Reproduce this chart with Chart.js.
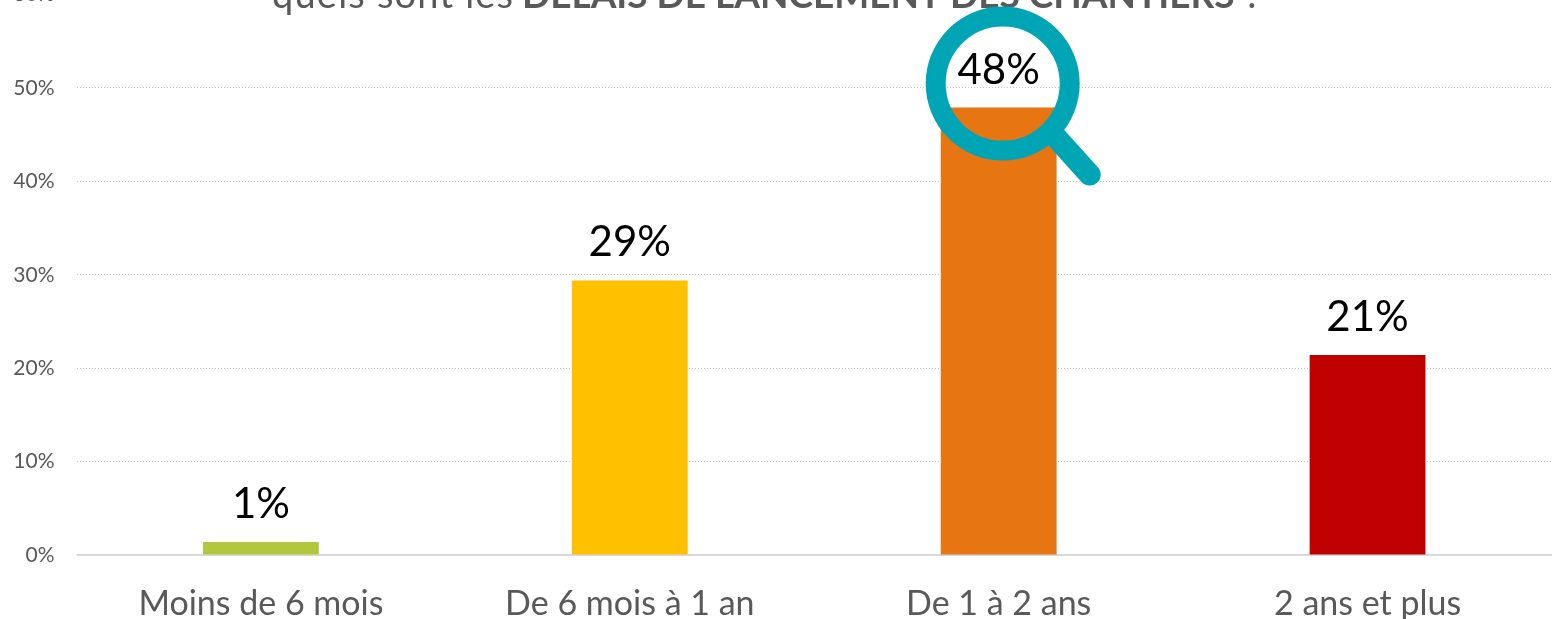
<!DOCTYPE html>
<html><head><meta charset="utf-8">
<style>html,body{margin:0;padding:0;background:#fff;overflow:hidden}#w{position:absolute;left:0;top:0;width:1552px;height:619px;overflow:hidden}#c{position:absolute;left:0;top:-40px}</style>
<script src="https://cdn.jsdelivr.net/npm/chart.js@4"></script>
</head><body><div id="w"><canvas id="c" width="1552" height="659"></canvas></div>
<script>
const categories = ["Moins de 6 mois","De 6 mois à 1 an","De 1 à 2 ans","2 ans et plus"];
const values = [1.4,29.4,47.9,21.4];
const valueLabels = ["1%","29%","48%","21%"];
const barColors = ["#B2C73E","#FFC000","#E77612","#C00000"];
const yTicks = [0,10,20,30,40,50,60];
const titleRegular = "quels sont les ";
const titleBold = "DELAIS DE LANCEMENT DES CHANTIERS";
const titleEnd = " ?";
const FONT = "Lato, Carlito, sans-serif";

const extras = {
  id:"extras",
  beforeDatasetsDraw(chart){
    const {ctx,chartArea:a,scales:{y}}=chart;
    ctx.save();ctx.strokeStyle="#D9D9D9";ctx.lineWidth=2;
    ctx.beginPath();ctx.moveTo(a.left,y.getPixelForValue(0));ctx.lineTo(a.right,y.getPixelForValue(0));ctx.stroke();ctx.restore();
  },
  afterDraw(chart){
    const {ctx}=chart;
    const bars=chart.getDatasetMeta(0).data;
    ctx.save();
    ctx.textBaseline="alphabetic";ctx.fillStyle="#595959";
    let x=272;const ty=48;
    ctx.font="38px "+FONT;ctx.letterSpacing="1.2px";ctx.fillText(titleRegular,x,ty);x=522;
    ctx.font="bold 37px "+FONT;ctx.letterSpacing="0px";ctx.fillText(titleBold,x,ty);x+=ctx.measureText(titleBold).width;
    ctx.font="38px "+FONT;ctx.fillText(titleEnd,x,ty);
    const b=bars[2];
    const cx=b.x+4, cy=b.y-24, r=67;
    ctx.strokeStyle="#00A5B5";ctx.lineWidth=20;
    ctx.beginPath();ctx.arc(cx,cy,r,0,Math.PI*2);ctx.stroke();
    ctx.lineCap="round";ctx.lineWidth=22;
    ctx.beginPath();ctx.moveTo(cx+r*0.74,cy+r*0.74);ctx.lineTo(cx+87,cy+91);ctx.stroke();
    ctx.fillStyle="#000";ctx.font="42px "+FONT;ctx.textAlign="center";ctx.textBaseline="alphabetic";
    bars.forEach((bar,i)=>ctx.fillText(valueLabels[i],bar.x,bar.y-24));
    ctx.restore();
  }
};

new Chart(document.getElementById("c"),{
  type:"bar",
  data:{labels:categories,datasets:[{data:values,backgroundColor:barColors,barPercentage:1,categoryPercentage:0.314}]},
  plugins:[extras],
  options:{
    responsive:false,animation:false,
    layout:{padding:{top:33.4,left:0,right:0,bottom:0}},
    plugins:{legend:{display:false},title:{display:false},tooltip:{enabled:false}},
    scales:{
      x:{afterFit(s){s.height=64},grid:{display:false},border:{display:false},
         ticks:{color:"#595959",font:{family:FONT,size:34},padding:21,maxRotation:0}},
      y:{min:0,max:60,afterFit(s){s.width=76.5},
         afterBuildTicks(s){s.ticks=yTicks.map(v=>({value:v}))},
         border:{display:false,dash:[1,2]},
         grid:{color:c=>c.tick.value===0?"rgba(0,0,0,0)":"#C4C4C4",lineWidth:1,drawTicks:false},
         ticks:{color:"#595959",autoSkip:false,font:{family:FONT,size:21},padding:22,callback:v=>v+"%"}}
    }
  }
});
</script></body></html>
